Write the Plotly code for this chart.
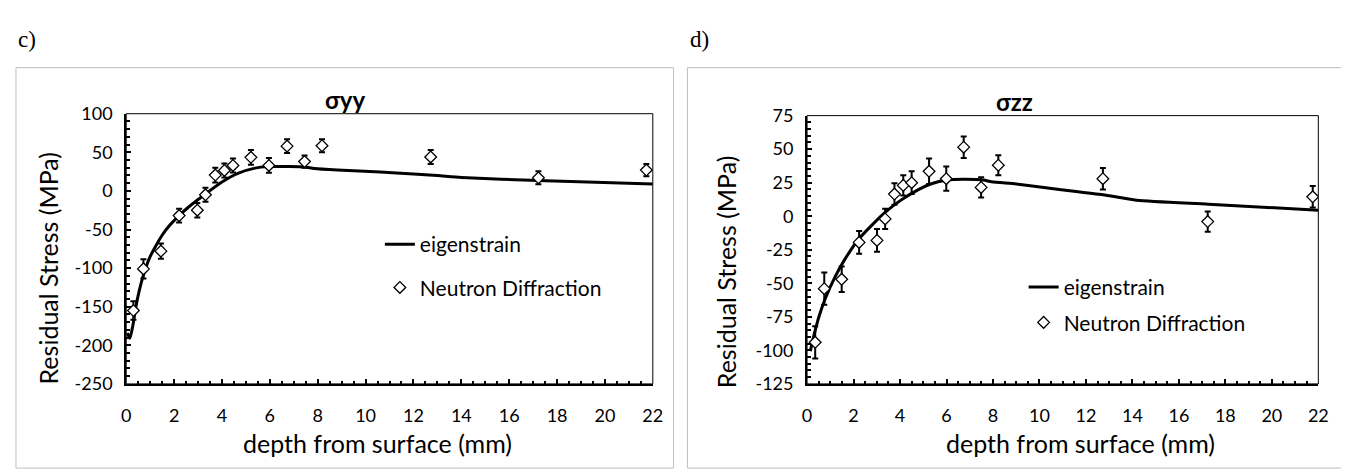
import plotly.graph_objects as go

# ---------------- data ----------------
# sigma_yy (panel c)
yy_nd_depth = [0.30, 0.72, 1.45, 2.21, 2.97, 3.31, 3.72, 4.10, 4.46, 5.21, 5.96, 6.72, 7.45, 8.18, 12.72, 17.22, 21.73]
yy_nd_stress = [-155, -101, -78, -32, -25, -5, 20.5, 26.5, 33, 43.5, 33, 58, 38, 58.5, 44, 17, 27]
yy_nd_err = [12, 12.5, 10, 9, 9.5, 9, 9.5, 9, 9, 9.5, 9.5, 9, 8, 8.5, 9, 8.5, 8]
yy_eig_depth = [0.05, 0.15, 0.28, 0.41, 0.55, 0.69, 0.97, 1.24, 1.52, 1.79, 2.21, 2.62, 3.31, 4.0, 4.69, 5.38,
                5.93, 6.76, 7.45, 7.86, 8.83, 10.62, 12.0, 13.0, 14.0, 17.2, 22.0]
yy_eig_stress = [-184, -191, -174, -149, -128.5, -112, -87, -71, -56.5, -45.5, -32, -20.5, -4, 11.5, 23, 29.5,
                 31.5, 31.5, 31, 29, 27, 24.5, 22, 20, 17.5, 13.5, 9]

# sigma_zz (panel d)
zz_nd_depth = [0.35, 0.74, 1.49, 2.24, 3.01, 3.36, 3.76, 4.14, 4.50, 5.25, 5.99, 6.74, 7.49, 8.23, 12.73, 17.24, 21.76]
zz_nd_stress = [-94, -54, -47, -19.5, -18, -2, 16.5, 23, 25, 33.5, 28, 51.5, 21.5, 38, 28, -4, 14.5]
zz_nd_err = [12, 12, 9.5, 8.5, 8.5, 7.5, 8, 7.5, 8.5, 9.5, 9, 8, 7.5, 7.5, 8, 7.5, 8]
zz_eig_depth = [0.14, 0.28, 0.50, 0.78, 1.21, 1.63, 2.20, 2.77, 3.33, 4.04, 4.75, 5.32, 6.03, 6.74, 7.59, 7.94,
                9.0, 10.85, 12.73, 14.18, 17.27, 22.0]
zz_eig_stress = [-100.5, -90, -75.5, -61.5, -45, -32, -17.5, -7, 2.5, 12, 19.5, 24, 27, 27.5, 27, 25.7,
                 24, 20, 16, 12, 9, 4.5]

x_ticks = [0, 2, 4, 6, 8, 10, 12, 14, 16, 18, 20, 22]
yy_ticks = [-250, -200, -150, -100, -50, 0, 50, 100]
zz_ticks = [-125, -100, -75, -50, -25, 0, 25, 50, 75]

panel_labels = ["c)", "d)"]
panel_titles = ["σyy", "σzz"]
x_title = "depth from surface (mm)"
y_title = "Residual Stress (MPa)"
eig_name = "eigenstrain"
nd_name = "Neutron Diffraction"

# ---------------- layout helpers ----------------
W, H = 1349, 472
FONT = "Lato"


def fx(p):
    return p / W


def fy(p):
    return 1 - p / H


fig = go.Figure()

# panel c traces
fig.add_trace(go.Scatter(x=yy_eig_depth, y=yy_eig_stress, mode="lines", name=eig_name,
                         line=dict(color="black", width=3, shape="spline", smoothing=0.6),
                         xaxis="x", yaxis="y", legend="legend", legendgroup="a"))
fig.add_trace(go.Scatter(x=yy_nd_depth, y=yy_nd_stress, mode="markers", name=nd_name,
                         marker=dict(symbol="diamond", size=9, color="white",
                                     line=dict(color="black", width=1.3)),
                         error_y=dict(type="data", array=yy_nd_err, color="black", thickness=2, width=3),
                         xaxis="x", yaxis="y", legend="legend", legendgroup="b"))
# panel d traces
fig.add_trace(go.Scatter(x=zz_eig_depth, y=zz_eig_stress, mode="lines", name=eig_name,
                         line=dict(color="black", width=3, shape="spline", smoothing=0.6),
                         xaxis="x2", yaxis="y2", legend="legend2", legendgroup="c"))
fig.add_trace(go.Scatter(x=zz_nd_depth, y=zz_nd_stress, mode="markers", name=nd_name,
                         marker=dict(symbol="diamond", size=9, color="white",
                                     line=dict(color="black", width=1.3)),
                         error_y=dict(type="data", array=zz_nd_err, color="black", thickness=2, width=3),
                         xaxis="x2", yaxis="y2", legend="legend2", legendgroup="d"))


def xaxis_cfg(domain, anchor):
    return dict(domain=domain, anchor=anchor, range=[0, 22], showline=True, linewidth=2, linecolor="black",
                ticks="inside", ticklen=5, tickwidth=2, tickcolor="black", showgrid=False, zeroline=False,
                tickmode="array", tickvals=x_ticks, ticktext=[str(v) for v in x_ticks],
                tickfont=dict(family=FONT, size=18, color="black"), ticklabelstandoff=14,
                minor=dict(ticks="inside", ticklen=3, tickwidth=1.5, tickcolor="black", dtick=0.5, tick0=0,
                           showgrid=False),
                fixedrange=True)


def yaxis_cfg(domain, anchor, rng, ticks, minor_dt):
    return dict(domain=domain, anchor=anchor, range=rng, showline=True, linewidth=2, linecolor="black",
                ticks="inside", ticklen=5, tickwidth=2, tickcolor="black", showgrid=False, zeroline=False,
                tickmode="array", tickvals=ticks, ticktext=[str(v) for v in ticks],
                tickfont=dict(family=FONT, size=18, color="black"), ticklabelstandoff=8,
                minor=dict(ticks="inside", ticklen=4, tickwidth=1.5, tickcolor="black", dtick=minor_dt,
                           tick0=0, showgrid=False),
                fixedrange=True)


shapes = []
# outer chart boxes
for (x0, x1) in [(3, 668), (682, 1344)]:
    shapes.append(dict(type="rect", xref="paper", yref="paper", x0=fx(x0), x1=fx(x1), y0=fy(470), y1=fy(50),
                       line=dict(color="#BFBFBF", width=1), layer="below"))
# thin plot-area borders
for xr, yr in [("x domain", "y domain"), ("x2 domain", "y2 domain")]:
    shapes.append(dict(type="rect", xref=xr, yref=yr, x0=0, x1=1, y0=0, y1=1,
                       line=dict(color="black", width=1), layer="below"))

annotations = []
# panel letters
for lbl, xp in zip(panel_labels, [3, 683]):
    annotations.append(dict(text=lbl, xref="paper", yref="paper", x=fx(xp), y=fy(20), xanchor="left",
                            yanchor="middle", showarrow=False,
                            font=dict(family="Liberation Serif", size=23, color="black")))
# chart titles
for t, xp, yp in zip(panel_titles, [335.5, 1013], [83, 85]):
    annotations.append(dict(text="<b>" + t + "</b>", xref="paper", yref="paper", x=fx(xp), y=fy(yp),
                            xanchor="center", yanchor="middle", showarrow=False,
                            font=dict(family=FONT, size=24, color="black")))
# axis titles
for xp in [369, 1080]:
    annotations.append(dict(text=x_title, xref="paper", yref="paper", x=fx(xp), y=fy(444),
                            xanchor="center", yanchor="middle", showarrow=False,
                            font=dict(family=FONT, size=25, color="black")))
for xp, yp in [(35, 260), (720.5, 264)]:
    annotations.append(dict(text=y_title, xref="paper", yref="paper", x=fx(xp), y=fy(yp),
                            xanchor="center", yanchor="middle", showarrow=False, textangle=-90,
                            font=dict(family=FONT, size=25, color="black")))

legend_common = dict(xanchor="left", yanchor="top", bgcolor="rgba(0,0,0,0)", borderwidth=0,
                     font=dict(family=FONT, size=21, color="black"), traceorder="grouped")

fig.update_layout(
    width=W, height=H,
    margin=dict(l=0, r=0, t=0, b=0),
    paper_bgcolor="white", plot_bgcolor="white",
    xaxis=xaxis_cfg([fx(114.5), fx(647)], "y"),
    yaxis=yaxis_cfg([fy(381.7), fy(98.3)], "x", [-250, 100], yy_ticks, 10),
    xaxis2=xaxis_cfg([fx(803), fx(1320)], "y2"),
    yaxis2=yaxis_cfg([fy(381.7), fy(100.3)], "x2", [-125, 75], zz_ticks, 5),
    legend=dict(x=fx(371), y=fy(214), tracegroupgap=13, **legend_common),
    legend2=dict(x=fx(1022), y=fy(259), tracegroupgap=5, **legend_common),
    shapes=shapes,
    annotations=annotations,
    showlegend=True,
)

fig.write_html("out.html")
